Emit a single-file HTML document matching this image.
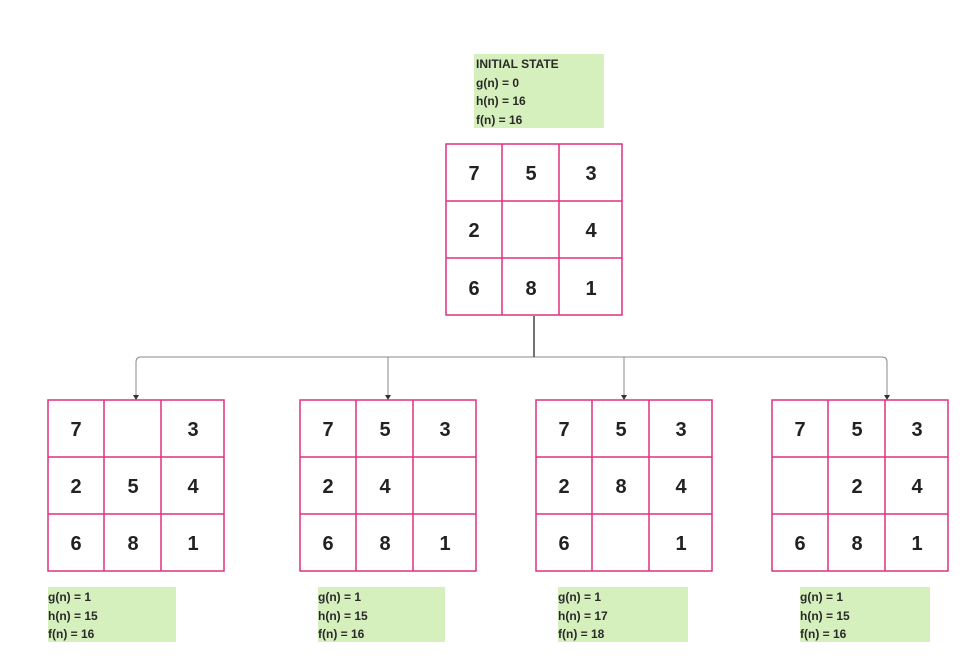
<!DOCTYPE html>
<html><head><style>
body{margin:0;width:975px;height:664px;background:#fff;position:relative;overflow:hidden;font-family:"Liberation Sans",sans-serif;}
.lab{position:absolute;background:#d5efbd;font-size:12px;font-weight:bold;color:#2a2a2a;line-height:18.5px;padding-top:1px;box-sizing:border-box;}
svg text{font-family:"Liberation Sans",sans-serif;font-size:20px;font-weight:bold;fill:#222;text-anchor:middle;}
</style></head><body>
<svg width="975" height="664" style="position:absolute;left:0;top:0">
<defs>
<g id="grid" fill="none" stroke="#e0307f" stroke-width="1.5">
<rect x="0" y="0" width="176" height="171"/>
<path d="M56 0V171M113 0V171M0 57H176M0 114H176"/>
</g>
</defs>
<path d="M136 400 V362 Q136 357 141 357 H882 Q887 357 887 362 V400 M388 357 V400 M624 357 V400" fill="none" stroke="#888" stroke-width="1"/>
<path d="M534 316 V357" stroke="#444" stroke-width="1.5"/>
<g fill="#333"><path d="M133 395 L139 395 L136 400Z"/><path d="M385 395 L391 395 L388 400Z"/><path d="M621 395 L627 395 L624 400Z"/><path d="M884 395 L890 395 L887 400Z"/></g>

<g transform="translate(446,144)"><use href="#grid"/>
<text x="28" y="36">7</text><text x="85" y="36">5</text><text x="145" y="36">3</text>
<text x="28" y="93">2</text><text x="145" y="93">4</text>
<text x="28" y="151">6</text><text x="85" y="151">8</text><text x="145" y="151">1</text></g>

<g transform="translate(48,400)"><use href="#grid"/>
<text x="28" y="36">7</text><text x="145" y="36">3</text>
<text x="28" y="93">2</text><text x="85" y="93">5</text><text x="145" y="93">4</text>
<text x="28" y="150">6</text><text x="85" y="150">8</text><text x="145" y="150">1</text></g>

<g transform="translate(300,400)"><use href="#grid"/>
<text x="28" y="36">7</text><text x="85" y="36">5</text><text x="145" y="36">3</text>
<text x="28" y="93">2</text><text x="85" y="93">4</text>
<text x="28" y="150">6</text><text x="85" y="150">8</text><text x="145" y="150">1</text></g>

<g transform="translate(536,400)"><use href="#grid"/>
<text x="28" y="36">7</text><text x="85" y="36">5</text><text x="145" y="36">3</text>
<text x="28" y="93">2</text><text x="85" y="93">8</text><text x="145" y="93">4</text>
<text x="28" y="150">6</text><text x="145" y="150">1</text></g>

<g transform="translate(772,400)"><use href="#grid"/>
<text x="28" y="36">7</text><text x="85" y="36">5</text><text x="145" y="36">3</text>
<text x="85" y="93">2</text><text x="145" y="93">4</text>
<text x="28" y="150">6</text><text x="85" y="150">8</text><text x="145" y="150">1</text></g>
</svg>
<div class="lab" style="left:474px;top:54px;width:130px;height:74px;padding-left:2px">INITIAL STATE<br>g(n) = 0<br>h(n) = 16<br>f(n) = 16</div>
<div class="lab" style="left:48px;top:587px;width:128px;height:55px">g(n) = 1<br>h(n) = 15<br>f(n) = 16</div>
<div class="lab" style="left:318px;top:587px;width:127px;height:55px">g(n) = 1<br>h(n) = 15<br>f(n) = 16</div>
<div class="lab" style="left:558px;top:587px;width:130px;height:55px">g(n) = 1<br>h(n) = 17<br>f(n) = 18</div>
<div class="lab" style="left:800px;top:587px;width:130px;height:55px">g(n) = 1<br>h(n) = 15<br>f(n) = 16</div>
</body></html>
